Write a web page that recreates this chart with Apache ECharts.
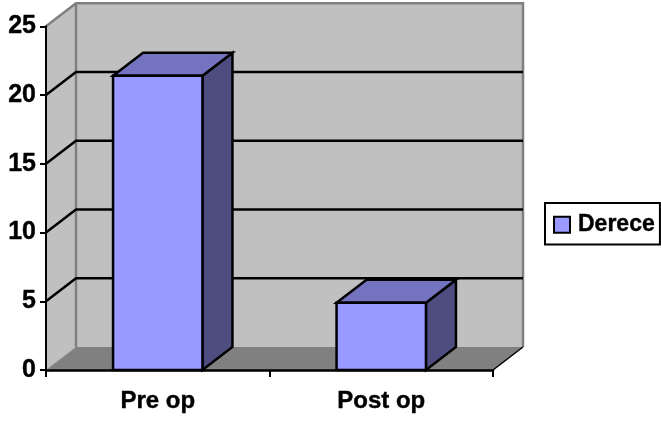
<!DOCTYPE html>
<html><head><meta charset="utf-8">
<style>html,body{margin:0;padding:0;background:#fff}#c{width:661px;height:421px}</style>
<script src="https://cdn.jsdelivr.net/npm/echarts@6/dist/echarts.min.js"></script>
</head><body><div id="c"></div>
<script>
const categories = ['Pre op', 'Post op'];
const seriesName = 'Derece';
const seriesValues = [21.4, 4.9];
const yTicks = [5, 10, 15, 20];

const DX = 30, DY = -23;
const font = {fontFamily: '"Liberation Sans", Arial, sans-serif', fontWeight: 'bold', fontSize: 24, color: '#000',
  textBorderColor: '#000', textBorderWidth: 0.4};
const chart = echarts.init(document.getElementById('c'), null, {renderer: 'canvas'});

function renderWalls(params, api) {
  const g = params.coordSys;
  const l = g.x, r = g.x + g.width, t = g.y, b = g.y + g.height;
  const wall = {fill: '#C0C0C0'};
  const edge = {stroke: '#808080', lineWidth: 2.5, fill: null};
  const children = [
    {type: 'polygon', shape: {points: [[l, b], [l + DX, b + DY], [l + DX, t + DY], [l, t]]}, style: wall},
    {type: 'polygon', shape: {points: [[l + DX, b + DY], [r + DX, b + DY], [r + DX, t + DY], [l + DX, t + DY]]}, style: wall},
    {type: 'polygon', shape: {points: [[l, b], [r, b], [r + DX, b + DY], [l + DX, b + DY]]}, style: {fill: '#808080'}},
    {type: 'polyline', shape: {points: [[l, t], [l + DX, t + DY], [r + DX, t + DY], [r + DX, b + DY]]}, style: edge},
    {type: 'line', shape: {x1: l + DX, y1: t + DY, x2: l + DX, y2: b + DY}, style: edge},
    {type: 'line', shape: {x1: l, y1: b, x2: l + DX, y2: b + DY}, style: {stroke: '#A0A0A0', lineWidth: 1}},
    {type: 'line', shape: {x1: r, y1: b, x2: r + DX, y2: b + DY}, style: {stroke: '#000', lineWidth: 1.5}}
  ];
  yTicks.forEach(v => {
    const y = api.coord([0, v])[1];
    children.push({type: 'polyline', shape: {points: [[l, y], [l + DX, y + DY], [r + DX, y + DY]]},
      style: {stroke: '#000', lineWidth: 2.5, fill: null}});
  });
  return {type: 'group', children};
}

function renderBar(params, api) {
  const c = api.coord([api.value(0), api.value(1)]);
  const b = api.coord([api.value(0), 0]);
  const w = api.size([1, 0])[0] * 0.4;
  const x0 = c[0] - w / 2, x1 = c[0] + w / 2, top = c[1], bot = b[1];
  const line = {stroke: '#000', lineWidth: 2.5, lineJoin: 'miter'};
  return {type: 'group', children: [
    {type: 'polygon', shape: {points: [[x1, top], [x1 + DX, top + DY], [x1 + DX, bot + DY], [x1, bot]]},
      style: {fill: '#4D4D80', ...line}},
    {type: 'polygon', shape: {points: [[x0, top], [x0 + DX, top + DY], [x1 + DX, top + DY], [x1, top]]},
      style: {fill: '#7373BF', ...line}},
    {type: 'rect', shape: {x: x0, y: top, width: w, height: bot - top},
      style: {fill: '#9999FF', ...line}}
  ]};
}

chart.setOption({
  animation: false,
  backgroundColor: '#fff',
  grid: {left: 46, top: 26.3, width: 447, height: 343.7},
  legend: {
    show: true, data: [{name: seriesName, icon: 'rect'}],
    left: 545, top: 203, padding: [10, 5, 8, 8], itemWidth: 16, itemHeight: 16, itemGap: 0,
    backgroundColor: '#fff', borderColor: '#000', borderWidth: 2, borderRadius: 0,
    textStyle: {...font, fontSize: 23, padding: [0, 0, 0, 3]}
  },
  xAxis: {
    type: 'category', data: categories, z: 5,
    axisLine: {lineStyle: {color: '#000', width: 2.5}},
    axisTick: {show: true, length: 7, lineStyle: {color: '#000', width: 2}, alignWithLabel: false},
    axisLabel: {...font, margin: 19},
    splitLine: {show: false}
  },
  yAxis: {
    type: 'value', min: 0, max: 25, interval: 5, z: 5,
    axisLine: {show: true, lineStyle: {color: '#000', width: 2}},
    axisTick: {show: true, length: 6, lineStyle: {color: '#000', width: 2}},
    axisLabel: {...font, fontSize: 25, margin: 10, padding: [2, 0, 0, 0]},
    splitLine: {show: false}
  },
  series: [
    {type: 'custom', name: 'walls', z: 1, silent: true, renderItem: renderWalls, data: [[0, 0]], encode: {x: 0, y: 1}},
    {type: 'custom', name: seriesName, z: 2, renderItem: renderBar,
      itemStyle: {color: '#9999FF', borderColor: '#000', borderWidth: 2},
      data: categories.map((_, i) => [i, seriesValues[i]]), encode: {x: 0, y: 1}}
  ]
});
</script></body></html>
